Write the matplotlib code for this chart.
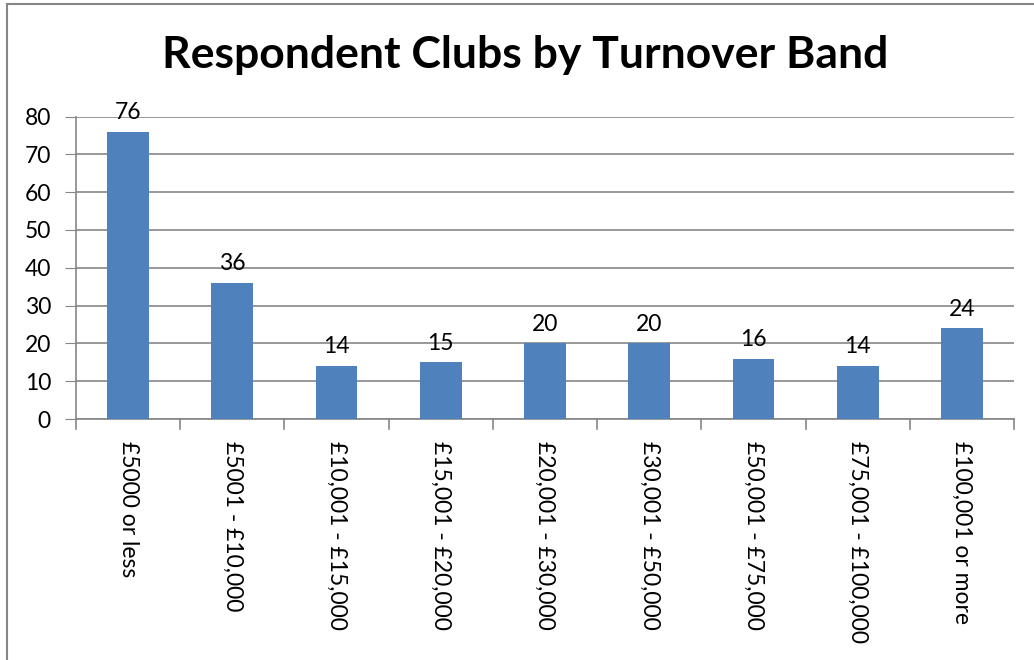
import matplotlib.pyplot as plt
from matplotlib.patches import Rectangle

# === Data ===
bands = ["£5000 or less", "£5001 - £10,000", "£10,001 - £15,000", "£15,001 - £20,000",
         "£20,001 - £30,000", "£30,001 - £50,000", "£50,001 - £75,000",
         "£75,001 - £100,000", "£100,001 or more"]
clubs = [76, 36, 14, 15, 20, 20, 16, 14, 24]
y_ticks = [0, 10, 20, 30, 40, 50, 60, 70, 80]

plt.rcParams['font.family'] = ['Lato', 'DejaVu Sans']

fig = plt.figure(figsize=(10.34, 6.6), dpi=100)
W, H = 1034, 660
# plot area in pixel coords
left, right, top, bottom = 76, 1014, 116.5, 419
ax = fig.add_axes([left / W, 1 - bottom / H, (right - left) / W, (bottom - top) / H])

x = list(range(len(bands)))
bars = ax.bar(x, clubs, width=0.4, color="#4F81BD", zorder=3)
for xi, v in zip(x, clubs):
    ax.text(xi, v + 2.3, str(v), ha="center", va="bottom", fontsize=16.5)

ax.set_xlim(-0.5, len(bands) - 0.5)
ax.set_ylim(0, 80)
ax.set_yticks(y_ticks)
ax.tick_params(axis="y", labelsize=16.5, length=8, color="#868686", pad=10)
ax.yaxis.grid(True, color="#868686", linewidth=1.2, zorder=0)

# category labels rotated, ticks at band boundaries
ax.set_xticks(x)
ax.set_xticklabels(bands, rotation=-90, fontsize=16.5, va="top", ha="center")
ax.tick_params(axis="x", length=0, pad=16)
for b in [i - 0.5 for i in range(len(bands) + 1)]:
    ax.plot([b, b], [0, -2.6], color="#868686", linewidth=1.2, clip_on=False)

for s in ["top", "right"]:
    ax.spines[s].set_visible(False)
ax.spines["left"].set_color("#868686")
ax.spines["bottom"].set_color("#868686")
ax.spines["left"].set_linewidth(1.2)
ax.spines["bottom"].set_linewidth(1.2)

fig.text(525 / W, 1 - 55 / H, "Respondent Clubs by Turnover Band",
         ha="center", va="center", fontsize=32, fontweight="bold")

# chart border
fig.patches.append(Rectangle((7 / W, -0.1), 1.2, 1 - 4 / H + 0.1, transform=fig.transFigure,
                             fill=False, edgecolor="#868686", linewidth=1.5))

fig.savefig("out.png", dpi=100)
